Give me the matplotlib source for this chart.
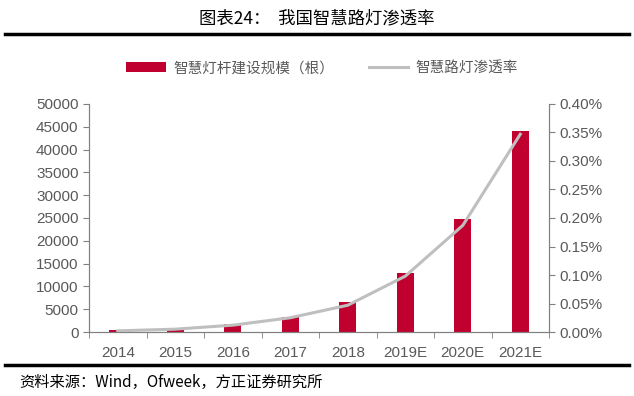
import matplotlib
matplotlib.use("Agg")
import matplotlib.pyplot as plt
from matplotlib.ticker import FuncFormatter
import numpy as np

plt.rcParams['font.family'] = ['Noto Sans CJK SC', 'DejaVu Sans']

# 数据
years = ['2014', '2015', '2016', '2017', '2018', '2019E', '2020E', '2021E']
poles = [500, 800, 1700, 3400, 6500, 13000, 24700, 44100]
rate = [0.00002, 0.00005, 0.00012, 0.00025, 0.00047, 0.00098, 0.00187, 0.00347]

title = '图表24：  我国智慧路灯渗透率'
source = '资料来源：Wind，Ofweek，方正证券研究所'
bar_label = '智慧灯杆建设规模（根）'
line_label = '智慧路灯渗透率'

bar_color = '#C0002E'
line_color = '#BFBFBF'
axis_color = '#808080'
tick_color = '#595959'

fig = plt.figure(figsize=(6.34, 3.96), dpi=100)
ax = fig.add_axes([0.1404, 0.1616, 0.7256, 0.5758])
ax2 = ax.twinx()

x = np.arange(len(years))
ax.bar(x, poles, width=0.3, color=bar_color, label=bar_label, zorder=2)
ax2.plot(x, rate, color=line_color, lw=2.2, label=line_label, zorder=3)

ax.set_xlim(-0.5, len(years) - 0.5)
ax.set_ylim(0, 50000)
ax.set_yticks(np.arange(0, 50001, 5000))
ax2.set_ylim(0, 0.004)
ax2.set_yticks(np.arange(0, 0.00401, 0.0005))
ax2.yaxis.set_major_formatter(FuncFormatter(lambda v, p: f'{v*100:.2f}%'))

ax.set_xticks(x)
ax.set_xticklabels(years)
ax.set_xticks(np.arange(-0.5, len(years)), minor=True)
ax.tick_params(axis='x', which='major', length=0, pad=10)
ax.tick_params(axis='x', which='minor', length=4, color=axis_color, direction='out')

for a in (ax, ax2):
    a.spines['top'].set_visible(False)
    for s in ('left', 'right', 'bottom'):
        a.spines[s].set_color(axis_color)
    a.tick_params(axis='y', length=4, color=axis_color, labelcolor=tick_color, labelsize=11)
    a.tick_params(axis='x', labelcolor=tick_color, labelsize=11)
for lbl in ax.get_xticklabels() + ax.get_yticklabels() + ax2.get_yticklabels():
    lbl.set_family(['Liberation Sans', 'DejaVu Sans'])

# 图例
h1, l1 = ax.get_legend_handles_labels()
h2, l2 = ax2.get_legend_handles_labels()
fig.legend(h1 + h2, l1 + l2, loc='center', bbox_to_anchor=(0.508, 0.828), ncol=2,
           frameon=False, fontsize=10.5, handlelength=2.7, handletextpad=0.5,
           columnspacing=2.4, labelcolor='#595959')

# 标题与分隔线
fig.text(0.5, 0.953, title, ha='center', va='center', fontsize=12.5, color='black')
fig.add_artist(plt.Line2D([0.008, 0.992], [0.914, 0.914], color='black', lw=2.5))
fig.add_artist(plt.Line2D([0.008, 0.992], [0.079, 0.079], color='black', lw=2.5))
fig.text(0.03, 0.033, source, ha='left', va='center', fontsize=11, style='italic', color='black')

fig.savefig('out.png', dpi=100)
